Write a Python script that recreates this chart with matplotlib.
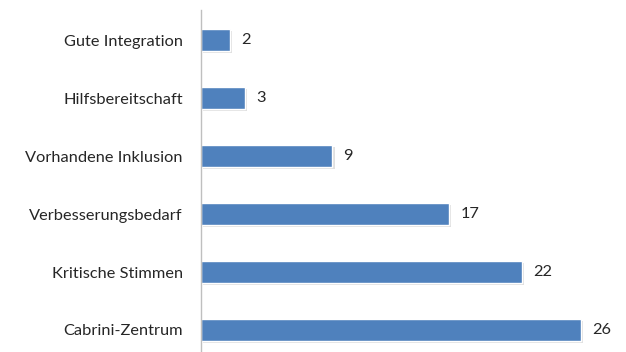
import matplotlib
matplotlib.use("Agg")
import matplotlib.pyplot as plt
import matplotlib.patheffects as pe

categories = ["Cabrini-Zentrum", "Kritische Stimmen", "Verbesserungsbedarf",
              "Vorhandene Inklusion", "Hilfsbereitschaft", "Gute Integration"]
values = [26, 22, 17, 9, 3, 2]

plt.rcParams['font.family'] = ['Lato', 'DejaVu Sans']

fig = plt.figure(figsize=(6.26, 3.52), dpi=100)
ax = fig.add_axes([201/626, 0, 409/626, 342/352])

pos = list(range(len(categories)))
bars = ax.barh(pos, values, height=0.38, color="#4F81BD", edgecolor="white", linewidth=1.0)
for b in bars:
    b.set_path_effects([pe.SimplePatchShadow(offset=(1.5, -1.5), shadow_rgbFace="#999999", alpha=0.3), pe.Normal()])

for p, v in zip(pos, values):
    ax.annotate(str(v), (v, p), xytext=(8, 0), textcoords="offset points",
                va="center", ha="left", fontsize=11.8, color="#262626")

ax.set_xlim(0, 28)
ax.set_ylim(-0.38, 5.52)
ax.set_yticks(pos)
ax.set_yticklabels(categories, fontsize=11.8, color="#262626")
ax.tick_params(axis='y', length=0, pad=13)
ax.set_xticks([])
for s in ["top", "right", "bottom"]:
    ax.spines[s].set_visible(False)
ax.spines["left"].set_color("#BFBFBF")
ax.spines["left"].set_linewidth(1.0)

fig.savefig("out.png", dpi=100)
